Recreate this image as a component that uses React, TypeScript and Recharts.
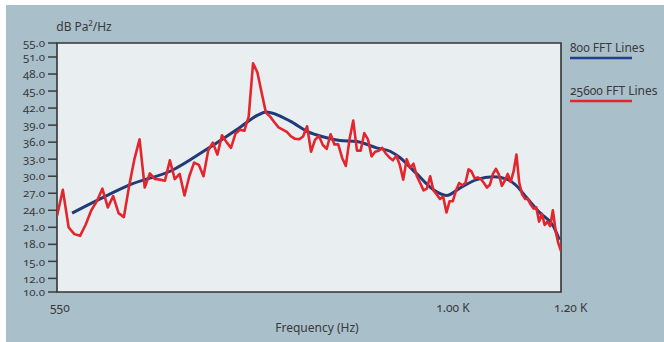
import React from 'react';
import {
  LineChart,
  Line,
  XAxis,
  YAxis,
  CartesianGrid,
  ReferenceArea,
} from 'recharts';

// 25600 FFT lines: dB read every 5 Hz from 550 Hz to 1200 Hz
const RED_START_HZ = 550;
const RED_STEP_HZ = 5;
const RED_DB = [
  23.0, 27.6, 21.0, 19.8, 19.5, 21.5, 24.0, 25.6, 27.8, 24.5,
  26.5, 23.5, 22.8, 28.3, 33.0, 36.5, 28.0, 30.5, 29.5, 29.4,
  29.2, 32.8, 29.5, 30.4, 26.6, 30.0, 32.4, 32.0, 30.0, 34.5,
  35.9, 33.8, 37.2, 36.0, 35.0, 37.5, 38.2, 38.0, 40.5, 49.9,
  48.3, 44.7, 41.2, 40.5, 39.5, 38.6, 38.2, 37.8, 37.0, 36.6,
  36.5, 37.0, 38.8, 34.3, 36.4, 37.1, 35.5, 34.8, 37.4, 35.6,
  35.6, 33.3, 31.8, 36.5, 39.8, 34.5, 34.5, 37.6, 36.5, 33.5,
  34.3, 34.5, 35.0, 34.0, 33.3, 32.8, 33.6, 32.0, 29.4, 33.0,
  31.5, 32.2, 30.0, 28.8, 27.5, 27.8, 30.0, 27.5, 26.8, 26.0,
  26.4, 23.6, 25.6, 25.6, 27.5, 28.8, 28.4, 28.8, 31.2, 30.8,
  29.6, 29.8, 29.5, 28.8, 28.0, 28.5, 30.4, 31.3, 30.3, 28.3,
  29.2, 30.4, 29.0, 30.8, 33.8, 28.8, 26.8, 26.0, 26.0, 25.0,
  24.3, 24.5, 22.0, 23.4, 21.4, 22.0, 21.2, 24.0, 20.4, 18.2,
  16.8,
];

// 800 FFT lines (smooth)
const BLUE_HZ = [
  563, 588, 616, 658, 693, 730, 751, 760, 789, 810, 831, 852, 875, 902,
  921, 935, 960, 985, 1005, 1026, 1053, 1081, 1103, 1118, 1138, 1162, 1186, 1197,
];
const BLUE_DB = [
  23.5, 26.0, 28.5, 31.1, 34.7, 38.6, 40.8, 41.3, 39.7, 37.9, 36.9, 36.3, 36.1, 35.0,
  34.4, 33.3, 30.4, 27.6, 26.6, 27.9, 29.4, 29.9, 29.5, 28.5, 26.2, 23.5, 21.2, 18.8,
];

const X_TICKS = [550, 1000, 1200];
const X_TICK_LABELS = ['550', '1.00 K', '1.20 K'];
const Y_TICKS = [10, 12, 15, 18, 21, 24, 27, 30, 33, 36, 39, 42, 45, 48, 51, 55];

// the y axis of the original is not evenly spaced at its ends
const Y_KNOTS = [10, 12, 51, 55];
const Y_KNOT_FRAC = [0, 0.0546, 0.9438, 1];

const LEGEND = [
  { name: '800 FFT Lines', color: '#23418a' },
  { name: '25600 FFT Lines', color: '#e3262e' },
];

const FONT = '"Noto Sans", "Open Sans", sans-serif';
const TEXT = '#3a3a3a';

const redData = RED_DB.map((db, i) => ({ hz: RED_START_HZ + i * RED_STEP_HZ, db }));
const blueData = BLUE_HZ.map((hz, i) => ({ hz, db: BLUE_DB[i] }));

function knotScale(): any {
  let dom: number[] = [10, 55];
  let rng: number[] = [0, 1];
  const frac = (v: number) => {
    for (let i = 1; i < Y_KNOTS.length; i++) {
      if (v <= Y_KNOTS[i] || i === Y_KNOTS.length - 1) {
        const t = (v - Y_KNOTS[i - 1]) / (Y_KNOTS[i] - Y_KNOTS[i - 1]);
        return Y_KNOT_FRAC[i - 1] + t * (Y_KNOT_FRAC[i] - Y_KNOT_FRAC[i - 1]);
      }
    }
    return 0;
  };
  const s: any = (v: number) => rng[0] + frac(v) * (rng[1] - rng[0]);
  s.domain = (d?: number[]) => {
    if (d === undefined) return dom.slice();
    dom = d.slice();
    return s;
  };
  s.range = (r?: number[]) => {
    if (r === undefined) return rng.slice();
    rng = r.slice();
    return s;
  };
  s.copy = () => knotScale().domain(dom).range(rng);
  s.ticks = () => Y_TICKS.slice();
  s.invert = (p: number) => {
    const f = (p - rng[0]) / (rng[1] - rng[0]);
    for (let i = 1; i < Y_KNOTS.length; i++) {
      if (f <= Y_KNOT_FRAC[i] || i === Y_KNOTS.length - 1) {
        const t = (f - Y_KNOT_FRAC[i - 1]) / (Y_KNOT_FRAC[i] - Y_KNOT_FRAC[i - 1]);
        return Y_KNOTS[i - 1] + t * (Y_KNOTS[i] - Y_KNOTS[i - 1]);
      }
    }
    return dom[0];
  };
  return s;
}

const yScale = knotScale();

const YTick = ({ x, y, payload }: any) => (
  <text x={x} y={y} dy="0.36em" textAnchor="end" fontSize={11.5} fill={TEXT} fontFamily={FONT}>
    {Number(payload.value).toFixed(1)}
  </text>
);

const XTick = ({ x, y, payload }: any) => {
  const idx = X_TICKS.indexOf(payload.value);
  return (
    <text x={x - 7} y={y} dy="0.71em" textAnchor="start" fontSize={12} fill={TEXT} fontFamily={FONT}>
      {X_TICK_LABELS[idx]}
    </text>
  );
};

const App: React.FC = () => {
  return (
    <div
      style={{
        position: 'absolute',
        left: 0,
        top: 0,
        width: 664,
        height: 342,
        background: '#ffffff',
        fontFamily: FONT,
        fontVariantNumeric: 'oldstyle-nums',
        overflow: 'hidden',
      }}
    >
      <div style={{ position: 'absolute', left: 6, top: 5, right: 0, bottom: 0, background: '#a9bfca' }} />
      <div style={{ position: 'absolute', left: 0, top: 0 }}>
        <LineChart width={664} height={342} margin={{ top: 43, right: 103, bottom: 20, left: 7 }}>
          <CartesianGrid horizontal={false} vertical={false} fill="#e9eef1" />
          <XAxis
            dataKey="hz"
            type="number"
            scale="log"
            domain={[550, 1200]}
            ticks={X_TICKS}
            interval={0}
            allowDataOverflow
            axisLine={false}
            tickLine={false}
            tickMargin={5}
            height={30}
            tick={<XTick />}
          />
          <YAxis
            type="number"
            scale={yScale}
            domain={[10, 55]}
            ticks={Y_TICKS}
            interval={0}
            allowDataOverflow
            axisLine={false}
            tickSize={9}
            tickMargin={3}
            tickLine={{ stroke: TEXT, strokeWidth: 1.5 }}
            width={50}
            tick={<YTick />}
          />
          <Line
            data={blueData}
            dataKey="db"
            type="monotone"
            stroke="#1f3b78"
            strokeWidth={3}
            dot={false}
            activeDot={false}
            isAnimationActive={false}
          />
          <Line
            data={redData}
            dataKey="db"
            type="linear"
            stroke="#e3262e"
            strokeWidth={2.6}
            strokeLinejoin="round"
            dot={false}
            activeDot={false}
            isAnimationActive={false}
          />
          <ReferenceArea
            x1={550}
            x2={1200}
            y1={10}
            y2={55}
            fill="none"
            stroke="#333333"
            strokeWidth={1.6}
            ifOverflow="visible"
          />
        </LineChart>
      </div>
      <svg
        width={664}
        height={342}
        style={{ position: 'absolute', left: 0, top: 0, pointerEvents: 'none' }}
      >
        <text x={84} y={31} textAnchor="middle" fontSize={12} fill={TEXT} fontFamily={FONT}>
          dB Pa²/Hz
        </text>
        <text x={317} y={332} textAnchor="middle" fontSize={12} fill={TEXT} fontFamily={FONT}>
          Frequency (Hz)
        </text>
        {LEGEND.map((item, i) => (
          <g key={item.name}>
            <text x={570} y={52 + i * 43} fontSize={12} fill={TEXT} fontFamily={FONT}>
              {item.name}
            </text>
            <line
              x1={570}
              x2={632}
              y1={58 + i * 43}
              y2={58 + i * 43}
              stroke={item.color}
              strokeWidth={2.6}
            />
          </g>
        ))}
      </svg>
    </div>
  );
};

export default App;
